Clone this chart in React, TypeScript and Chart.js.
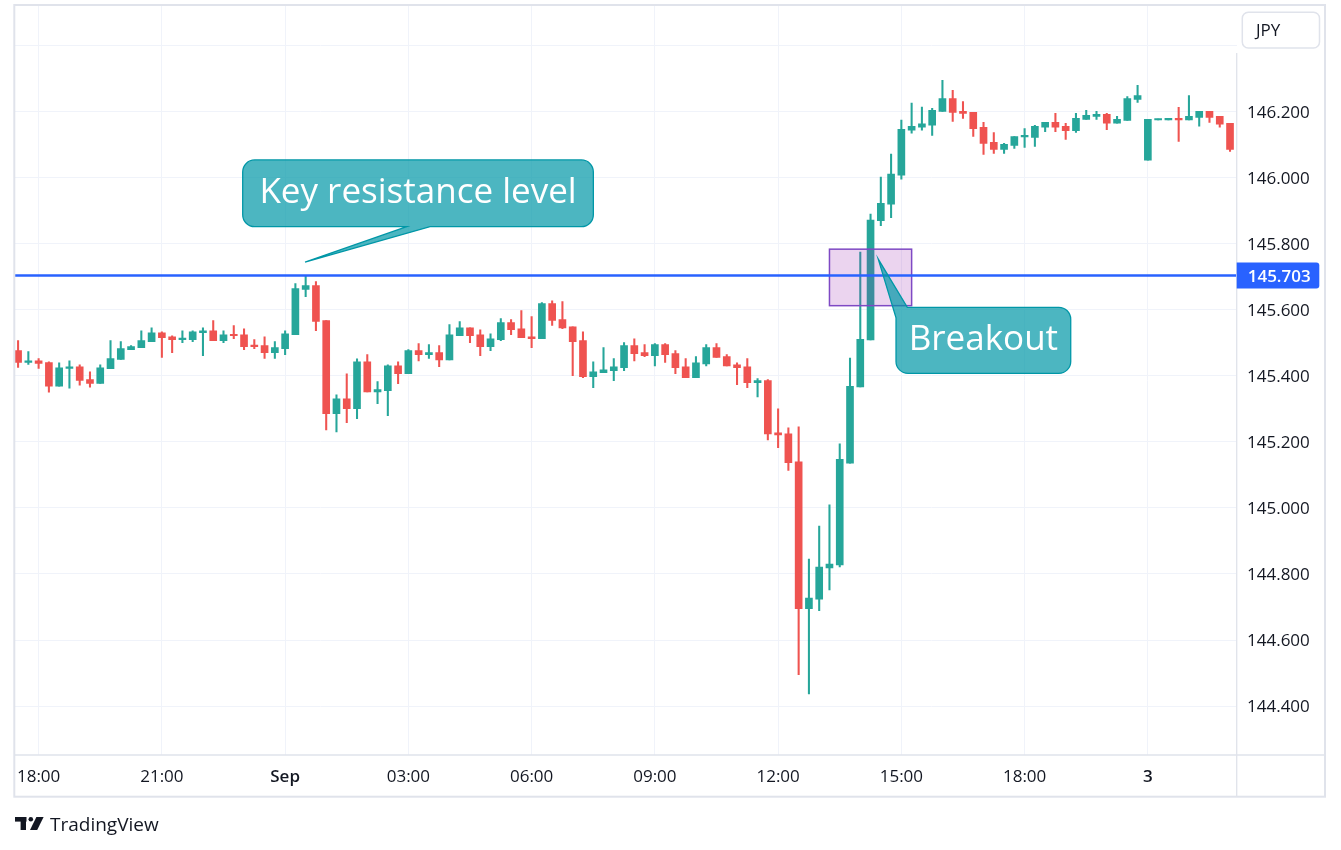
import React, { useEffect, useRef } from 'react';
import { Chart, registerables } from 'chart.js';

Chart.register(...registerables);

// ---- data (15-minute candles, USD/JPY) ----
const opens = [
  145.476, 145.440, 145.445, 145.440, 145.368, 145.422, 145.427, 145.388, 145.377, 145.421,
  145.449, 145.479, 145.485, 145.503, 145.530, 145.518, 145.509, 145.509, 145.530, 145.536,
  145.506, 145.524, 145.524, 145.491, 145.491, 145.470, 145.482, 145.524, 145.661, 145.673,
  145.567, 145.285, 145.330, 145.300, 145.442, 145.351, 145.355, 145.430, 145.406, 145.476,
  145.464, 145.470, 145.448, 145.521, 145.545, 145.524, 145.488, 145.509, 145.561, 145.542,
  145.518, 145.512, 145.618, 145.570, 145.548, 145.506, 145.397, 145.409, 145.415, 145.424,
  145.491, 145.470, 145.461, 145.494, 145.467, 145.427, 145.394, 145.436, 145.485, 145.458,
  145.433, 145.427, 145.379, 145.385, 145.227, 145.224, 145.139, 144.695, 144.724, 144.818,
  144.827, 145.135, 145.366, 145.508, 145.869, 145.919, 146.007, 146.143, 146.152, 146.158,
  146.200, 146.239, 146.200, 146.197, 146.152, 146.106, 146.085, 146.097, 146.123, 146.121,
  146.152, 146.167, 146.155, 146.142, 146.176, 146.185, 146.191, 146.164, 146.173, 146.236,
  146.052, 146.174, 146.174, 146.179, 146.174, 146.182, 146.200, 146.185, 146.164,
];
const highs = [
  145.506, 145.473, 145.452, 145.442, 145.439, 145.445, 145.433, 145.412, 145.433, 145.506,
  145.503, 145.491, 145.536, 145.545, 145.533, 145.521, 145.536, 145.536, 145.545, 145.567,
  145.536, 145.552, 145.542, 145.509, 145.518, 145.503, 145.536, 145.679, 145.703, 145.685,
  145.567, 145.342, 145.406, 145.451, 145.464, 145.382, 145.433, 145.442, 145.479, 145.497,
  145.494, 145.491, 145.555, 145.564, 145.545, 145.539, 145.527, 145.573, 145.570, 145.597,
  145.579, 145.621, 145.627, 145.624, 145.548, 145.533, 145.442, 145.485, 145.452, 145.500,
  145.512, 145.494, 145.497, 145.497, 145.476, 145.452, 145.458, 145.494, 145.497, 145.464,
  145.439, 145.452, 145.391, 145.388, 145.300, 145.242, 145.245, 144.845, 144.945, 145.009,
  145.194, 145.453, 145.774, 145.889, 146.001, 146.071, 146.174, 146.225, 146.213, 146.209,
  146.294, 146.264, 146.230, 146.197, 146.167, 146.136, 146.103, 146.124, 146.148, 146.158,
  146.167, 146.194, 146.164, 146.194, 146.203, 146.200, 146.194, 146.185, 146.245, 146.279,
  146.176, 146.177, 146.179, 146.212, 146.248, 146.200, 146.200, 146.185, 146.164,
];
const lows = [
  145.425, 145.434, 145.422, 145.350, 145.368, 145.362, 145.371, 145.365, 145.377, 145.421,
  145.449, 145.479, 145.485, 145.503, 145.455, 145.470, 145.500, 145.503, 145.461, 145.506,
  145.500, 145.512, 145.479, 145.482, 145.452, 145.452, 145.464, 145.524, 145.639, 145.536,
  145.236, 145.230, 145.258, 145.270, 145.351, 145.315, 145.279, 145.376, 145.406, 145.445,
  145.452, 145.427, 145.448, 145.521, 145.500, 145.461, 145.476, 145.506, 145.524, 145.515,
  145.485, 145.512, 145.552, 145.542, 145.400, 145.394, 145.364, 145.409, 145.385, 145.415,
  145.445, 145.458, 145.430, 145.440, 145.406, 145.394, 145.394, 145.430, 145.455, 145.430,
  145.373, 145.364, 145.336, 145.206, 145.182, 145.113, 144.495, 144.437, 144.689, 144.752,
  144.821, 145.135, 145.366, 145.508, 145.854, 145.878, 145.995, 146.134, 146.143, 146.127,
  146.200, 146.170, 146.179, 146.124, 146.070, 146.073, 146.073, 146.088, 146.091, 146.094,
  146.139, 146.139, 146.115, 146.136, 146.176, 146.176, 146.145, 146.164, 146.173, 146.227,
  146.052, 146.174, 146.174, 146.109, 146.174, 146.155, 146.167, 146.152, 146.079,
];
const closes = [
  145.440, 145.445, 145.437, 145.368, 145.424, 145.427, 145.386, 145.377, 145.424, 145.452,
  145.482, 145.488, 145.506, 145.530, 145.515, 145.509, 145.512, 145.533, 145.536, 145.506,
  145.524, 145.521, 145.488, 145.488, 145.470, 145.485, 145.527, 145.664, 145.673, 145.564,
  145.285, 145.330, 145.300, 145.442, 145.351, 145.358, 145.430, 145.406, 145.476, 145.464,
  145.470, 145.448, 145.524, 145.545, 145.521, 145.488, 145.512, 145.561, 145.539, 145.515,
  145.512, 145.618, 145.567, 145.545, 145.503, 145.397, 145.412, 145.418, 145.427, 145.491,
  145.467, 145.461, 145.494, 145.464, 145.424, 145.394, 145.439, 145.485, 145.455, 145.430,
  145.424, 145.379, 145.385, 145.224, 145.221, 145.137, 144.695, 144.727, 144.821, 144.830,
  145.147, 145.368, 145.510, 145.871, 145.922, 146.010, 146.146, 146.155, 146.162, 146.203,
  146.239, 146.197, 146.194, 146.148, 146.103, 146.085, 146.100, 146.124, 146.126, 146.155,
  146.167, 146.152, 146.142, 146.179, 146.188, 146.191, 146.164, 146.176, 146.239, 146.248,
  146.176, 146.177, 146.179, 146.174, 146.185, 146.200, 146.182, 146.161, 146.085,
];

const xTickIndex = [2, 14, 26, 38, 50, 62, 74, 86, 98, 110];
const xTickLabels = ['18:00', '21:00', 'Sep', '03:00', '06:00', '09:00', '12:00', '15:00', '18:00', '3'];
const boldTickLabels = ['Sep', '3'];
const yTickValues = [144.4, 144.6, 144.8, 145.0, 145.2, 145.4, 145.6, 145.8, 146.0, 146.2, 146.4];
const hiddenYTick = 146.4;
const currencyLabel = 'JPY';
const resistanceLevel = 145.703;
const brandName = 'TradingView';

// annotation anchors, in chart units (candle index / price)
const breakoutZone = { x0: 79, x1: 87, yLow: 145.612, yHigh: 145.783 };
const resistanceCallout = {
  text: 'Key resistance level',
  x0: 21.87, x1: 56.01, yTop: 146.053, yBottom: 145.851,
  wedgeX0: 37.84, wedgeX1: 40.11, tipX: 27.94, tipY: 145.744,
};
const breakoutCallout = {
  text: 'Breakout',
  x0: 85.48, x1: 102.49, yTop: 145.607, yBottom: 145.407,
  wedgeTopX: 86.58, wedgeLeftY: 145.575, tipX: 83.75, tipY: 145.753,
};

// ---- styles ----
const UP = '#26a69a';
const DOWN = '#ef5350';
const FONT = '"Open Sans", "Noto Sans", sans-serif';
const TEXT = '#131722';
const GRID = '#f0f3fa';
const FRAME = '#e0e3eb';
const BLUE = '#2962ff';
const CALLOUT_FILL = 'rgba(0, 151, 167, 0.7)';
const CALLOUT_STROKE = '#0097a7';

const overlayPlugin = {
  id: 'overlay',
  afterDatasetsDraw(chart: any) {
    const { ctx, chartArea, scales } = chart;
    const x = scales.x;
    const y = scales.y;
    ctx.save();

    // breakout zone rectangle
    const zx0 = x.getPixelForValue(breakoutZone.x0);
    const zx1 = x.getPixelForValue(breakoutZone.x1);
    const zy0 = y.getPixelForValue(breakoutZone.yHigh);
    const zy1 = y.getPixelForValue(breakoutZone.yLow);
    ctx.fillStyle = 'rgba(156, 39, 176, 0.2)';
    ctx.fillRect(zx0, zy0, zx1 - zx0, zy1 - zy0);
    ctx.strokeStyle = '#7e49c4';
    ctx.lineWidth = 1.5;
    ctx.strokeRect(zx0, zy0, zx1 - zx0, zy1 - zy0);

    // resistance line
    const ly = y.getPixelForValue(resistanceLevel);
    ctx.strokeStyle = BLUE;
    ctx.lineWidth = 2.5;
    ctx.beginPath();
    ctx.moveTo(chartArea.left, ly);
    ctx.lineTo(chartArea.right, ly);
    ctx.stroke();

    // font fitted to the first callout
    const r = 12;
    ctx.font = `34px ${FONT}`;
    const baseW = ctx.measureText(resistanceCallout.text).width;
    const c1 = resistanceCallout;
    let L = x.getPixelForValue(c1.x0);
    let R = x.getPixelForValue(c1.x1);
    let T = y.getPixelForValue(c1.yTop);
    let B = y.getPixelForValue(c1.yBottom);
    const fontSize = 34 * ((R - L) * 0.905) / baseW;

    // callout 1
    {
      const w0 = x.getPixelForValue(c1.wedgeX0);
      const w1 = x.getPixelForValue(c1.wedgeX1);
      const tx = x.getPixelForValue(c1.tipX);
      const ty = y.getPixelForValue(c1.tipY);
      ctx.beginPath();
      ctx.moveTo(L + r, T);
      ctx.lineTo(R - r, T);
      ctx.arcTo(R, T, R, T + r, r);
      ctx.lineTo(R, B - r);
      ctx.arcTo(R, B, R - r, B, r);
      ctx.lineTo(w1, B);
      ctx.lineTo(tx, ty);
      ctx.lineTo(w0, B);
      ctx.lineTo(L + r, B);
      ctx.arcTo(L, B, L, B - r, r);
      ctx.lineTo(L, T + r);
      ctx.arcTo(L, T, L + r, T, r);
      ctx.closePath();
      ctx.fillStyle = CALLOUT_FILL;
      ctx.fill();
      ctx.strokeStyle = CALLOUT_STROKE;
      ctx.lineWidth = 1.3;
      ctx.stroke();
      ctx.fillStyle = '#ffffff';
      ctx.font = `${fontSize}px ${FONT}`;
      ctx.textAlign = 'center';
      ctx.textBaseline = 'alphabetic';
      ctx.fillText(c1.text, (L + R) / 2, (T + B) / 2 + 10);
    }

    // callout 2
    {
      const c2 = breakoutCallout;
      L = x.getPixelForValue(c2.x0);
      R = x.getPixelForValue(c2.x1);
      T = y.getPixelForValue(c2.yTop);
      B = y.getPixelForValue(c2.yBottom);
      const wx = x.getPixelForValue(c2.wedgeTopX);
      const wy = y.getPixelForValue(c2.wedgeLeftY);
      const tx = x.getPixelForValue(c2.tipX);
      const ty = y.getPixelForValue(c2.tipY);
      ctx.beginPath();
      ctx.moveTo(wx, T);
      ctx.lineTo(R - r, T);
      ctx.arcTo(R, T, R, T + r, r);
      ctx.lineTo(R, B - r);
      ctx.arcTo(R, B, R - r, B, r);
      ctx.lineTo(L + r, B);
      ctx.arcTo(L, B, L, B - r, r);
      ctx.lineTo(L, wy);
      ctx.lineTo(tx, ty);
      ctx.closePath();
      ctx.fillStyle = CALLOUT_FILL;
      ctx.fill();
      ctx.strokeStyle = CALLOUT_STROKE;
      ctx.lineWidth = 1.3;
      ctx.stroke();
      ctx.fillStyle = '#ffffff';
      ctx.font = `${fontSize}px ${FONT}`;
      ctx.textAlign = 'center';
      ctx.textBaseline = 'alphabetic';
      ctx.fillText(c2.text, (L + R) / 2, (T + B) / 2 + 10);
    }
    ctx.restore();
  },
  afterDraw(chart: any) {
    const { ctx, chartArea, scales } = chart;
    const y = scales.y;
    ctx.save();

    // frame and axis separators
    ctx.strokeStyle = FRAME;
    ctx.lineWidth = 2;
    ctx.strokeRect(14.3, 5, 1325 - 14.3, 796.7 - 5);
    ctx.lineWidth = 1.3;
    ctx.beginPath();
    ctx.moveTo(14.3, chartArea.bottom);
    ctx.lineTo(1325, chartArea.bottom);
    ctx.moveTo(chartArea.right, 53);
    ctx.lineTo(chartArea.right, 796.7);
    ctx.stroke();

    // currency button
    ctx.lineWidth = 1.5;
    ctx.beginPath();
    ctx.roundRect(1242.3, 12.3, 77.2, 35.7, 6);
    ctx.stroke();
    ctx.fillStyle = TEXT;
    ctx.font = `17px ${FONT}`;
    ctx.textAlign = 'left';
    ctx.textBaseline = 'middle';
    ctx.fillText(currencyLabel, 1256, 31);

    // price label
    const ly = y.getPixelForValue(resistanceLevel);
    ctx.fillStyle = BLUE;
    ctx.beginPath();
    ctx.roundRect(chartArea.right, ly - 13, 1319.3 - chartArea.right, 26, [0, 3, 3, 0]);
    ctx.fill();
    ctx.fillStyle = '#ffffff';
    ctx.font = `600 17px ${FONT}`;
    ctx.fillText(resistanceLevel.toFixed(3), chartArea.right + 11, ly + 1.5);

    // brand
    ctx.fillStyle = TEXT;
    ctx.fillRect(15, 817, 11.5, 4.6);
    ctx.fillRect(20.6, 817, 5.4, 13);
    ctx.beginPath();
    ctx.arc(30.8, 819.3, 2.3, 0, Math.PI * 2);
    ctx.fill();
    ctx.beginPath();
    ctx.moveTo(36.4, 817);
    ctx.lineTo(43.6, 817);
    ctx.lineTo(37.2, 830);
    ctx.lineTo(30, 830);
    ctx.closePath();
    ctx.fill();
    ctx.font = `19px ${FONT}`;
    ctx.textBaseline = 'alphabetic';
    ctx.fillText(brandName, 50, 830.5);
    ctx.restore();
  },
};

export default function App() {
  const canvasRef = useRef<HTMLCanvasElement | null>(null);

  useEffect(() => {
    const canvas = canvasRef.current;
    if (!canvas) return;
    const colors = opens.map((o, i) => (closes[i] >= o ? UP : DOWN));
    const chart = new Chart(canvas, {
      type: 'bar',
      data: {
        datasets: [
          {
            label: 'body',
            data: opens.map((o, i) => ({ x: i, y: [o, closes[i]] })) as any,
            backgroundColor: colors,
            borderWidth: 0,
            barThickness: 7,
            minBarLength: 1.5,
            grouped: false,
            order: 1,
          },
          {
            label: 'wick',
            data: lows.map((l, i) => ({ x: i, y: [l, highs[i]] })) as any,
            backgroundColor: colors,
            borderWidth: 0,
            barThickness: 1.4,
            grouped: false,
            order: 2,
          },
        ],
      },
      options: {
        responsive: false,
        animation: false,
        events: [],
        layout: { padding: { left: 15, top: 6, right: 16, bottom: 53 } },
        plugins: { legend: { display: false }, tooltip: { enabled: false } },
        scales: {
          x: {
            type: 'linear',
            min: -0.3,
            max: 118.65,
            offset: false,
            grid: { color: GRID, drawTicks: false, offset: false, lineWidth: 1 },
            border: { display: false },
            afterBuildTicks: (axis: any) => {
              axis.ticks = xTickIndex.map((v) => ({ value: v }));
            },
            afterFit: (axis: any) => {
              axis.height = 42;
              axis.paddingLeft = 0;
              axis.paddingRight = 0;
            },
            ticks: {
              autoSkip: false,
              maxRotation: 0,
              minRotation: 0,
              padding: 12,
              color: TEXT,
              font: (c: any) => ({
                family: FONT,
                size: 17,
                weight: boldTickLabels.includes(c.tick && c.tick.label) ? '600' : '400',
              }),
              callback: (_v: any, i: number) => xTickLabels[i],
            },
          },
          y: {
            type: 'linear',
            position: 'right',
            min: 144.252,
            max: 146.519,
            grid: { color: GRID, drawTicks: false, lineWidth: 1 },
            border: { display: false },
            afterBuildTicks: (axis: any) => {
              axis.ticks = yTickValues.map((v) => ({ value: v }));
            },
            afterFit: (axis: any) => {
              axis.width = 88.3;
              axis.paddingTop = 0;
              axis.paddingBottom = 0;
            },
            ticks: {
              padding: 10.3,
              labelOffset: 1.5,
              crossAlign: 'near',
              color: TEXT,
              font: { family: FONT, size: 17 },
              callback: (v: any) =>
                Math.abs(Number(v) - hiddenYTick) < 1e-6 ? '' : Number(v).toFixed(3),
            },
          },
        },
      } as any,
      plugins: [overlayPlugin],
    });
    return () => chart.destroy();
  }, []);

  return (
    <div style={{ position: 'absolute', left: 0, top: 0, width: 1341, height: 850, background: '#ffffff' }}>
      <canvas ref={canvasRef} width={1341} height={850} style={{ width: 1341, height: 850, display: 'block' }} />
    </div>
  );
}
